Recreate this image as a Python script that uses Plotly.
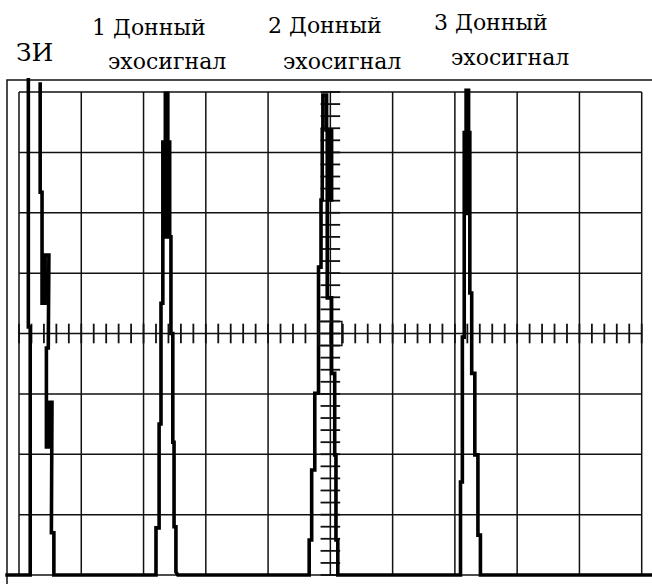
import numpy as np
import plotly.graph_objects as go

# ---- screen grid (divisions) ----
x_divisions = 10
y_divisions = 8
minor_per_div = 5

# ---- signal traces, in screen divisions (x: time, y: amplitude) ----
baseline_start = [-0.22]
baseline_end = [10.20]

zi_x = [0.18, 0.18, 0.15, 0.15, None, 0.34, 0.34, 0.37, 0.37, 0.37, 0.42, 0.42, 0.48, 0.48,
        0.47, 0.47, 0.44, 0.44, 0.44, 0.49, 0.49, 0.53, 0.53, 0.52, 0.52, 0.56, 0.56]
zi_y = [0.00, 4.11, 4.11, 8.23, None, 8.16, 6.34, 6.34, 5.30, 4.50, 4.50, 5.30, 5.30, 4.50,
        4.50, 3.76, 3.76, 2.86, 2.12, 2.12, 2.86, 2.86, 2.12, 2.12, 0.70, 0.70, 0.00]

echo1_x = [2.20, 2.20, 2.25, 2.25, 2.28, 2.28, 2.31, 2.31, 2.35, 2.35, 2.39, 2.39, 2.42,
           2.42, 2.365, 2.365, 2.42, 2.42, 2.44, 2.44, 2.47, 2.47, 2.49, 2.49, 2.52, 2.52, 2.55]
echo1_y = [0.00, 0.78, 0.78, 2.50, 2.50, 4.50, 4.50, 7.17, 7.17, 7.98, 7.98, 7.17, 7.17,
           5.60, 5.60, 7.17, 7.17, 5.60, 5.60, 4.00, 4.00, 2.20, 2.20, 0.80, 0.80, 0.05, 0.00]

echo2_x = [4.66, 4.66, 4.70, 4.70, 4.75, 4.75, 4.81, 4.81, 4.85, 4.85, 4.87, 4.87, 4.88,
           4.88, 4.94, 4.94, 5.02, 5.02, 4.95, 4.95, 4.985, 4.985, 4.95, 4.95, 5.02, 5.02,
           5.07, 5.07, 5.09, 5.09, 5.12, 5.12]
echo2_y = [0.00, 0.58, 0.58, 1.74, 1.74, 3.01, 3.01, 5.10, 5.10, 6.21, 6.21, 7.37, 7.37,
           7.95, 7.95, 7.37, 7.37, 6.21, 6.21, 7.37, 7.37, 6.21, 6.21, 4.59, 4.59, 3.34,
           3.34, 1.99, 1.99, 0.58, 0.58, 0.00]

echo3_x = [7.09, 7.09, 7.12, 7.12, 7.15, 7.15, 7.18, 7.18, 7.22, 7.22, 7.24, 7.24, 7.195,
           7.195, 7.24, 7.24, 7.27, 7.27, 7.32, 7.32, 7.37, 7.37, 7.41, 7.41]
echo3_y = [0.00, 1.54, 1.54, 3.94, 3.94, 7.33, 7.33, 8.03, 8.03, 7.33, 7.33, 5.99, 5.99,
           7.33, 7.33, 4.67, 4.67, 3.34, 3.34, 1.99, 1.99, 0.66, 0.66, 0.00]

signal_x = baseline_start + zi_x + echo1_x + echo2_x + echo3_x + baseline_end
signal_y = [0.0] + zi_y + echo1_y + echo2_y + echo3_y + [0.0]

# ---- labels ----
label_texts = ["ЗИ", "1 Донный", "эхосигнал", "2 Донный", "эхосигнал", "3 Донный", "эхосигнал"]

# ---- figure geometry (pixels) ----
W, H = 652, 584
grid_left_px, grid_right_px = 19.0, 641.7
grid_top_px, grid_bottom_px = 92.0, 575.0
px_per_x = (grid_right_px - grid_left_px) / x_divisions
px_per_y = (grid_bottom_px - grid_top_px) / y_divisions
x_range = [-grid_left_px / px_per_x, (W - grid_left_px) / px_per_x]
y_range = [-(H - grid_bottom_px) / px_per_y, grid_bottom_px / px_per_y]

fig = go.Figure()

# grid lines
gx, gy = [], []
for i in range(x_divisions + 1):
    gx += [i, i, None]
    gy += [0, y_divisions, None]
for j in range(y_divisions + 1):
    gx += [0, x_divisions, None]
    gy += [j, j, None]
fig.add_trace(go.Scatter(x=gx, y=gy, mode="lines",
                         line=dict(color="#111111", width=1.5), hoverinfo="skip"))

# minor ticks along the centre axes
cx = x_divisions / 2
cy = y_divisions / 2
tick_x = np.arange(0, x_divisions + 1e-9, 1 / minor_per_div)
tick_y = np.arange(0, y_divisions + 1e-9, 1 / minor_per_div)
fig.add_trace(go.Scatter(x=tick_x, y=[cy] * len(tick_x), mode="markers",
                         marker=dict(symbol="line-ns", size=14,
                                     line=dict(color="#111111", width=1.8)),
                         hoverinfo="skip"))
fig.add_trace(go.Scatter(x=[cx] * len(tick_y), y=tick_y, mode="markers",
                         marker=dict(symbol="line-ew", size=14,
                                     line=dict(color="#111111", width=1.8)),
                         hoverinfo="skip"))

# signal
fig.add_trace(go.Scatter(x=signal_x, y=signal_y, mode="lines", connectgaps=False,
                         line=dict(color="black", width=3.6), hoverinfo="skip"))

# outer screen frame
frame_left = (7 - grid_left_px) / px_per_x
frame_top = (grid_bottom_px - 80) / px_per_y
fig.add_shape(type="rect", x0=frame_left, x1=x_range[1] + 1, y0=y_range[0] - 1, y1=frame_top,
              xref="x", yref="y", line=dict(color="#111111", width=1.5), layer="below")
# small centre square
fig.add_shape(type="rect", x0=cx - 0.185, x1=cx + 0.185, y0=cy - 0.2, y1=cy + 0.2,
              xref="x", yref="y", line=dict(color="#111111", width=1.5))

label_pos = [(34, 52), (149, 28), (167, 62), (325, 26), (342, 61), (491, 23), (510, 58)]
label_size = [25, 22, 22, 22, 22, 22, 22]
for txt, (px, py), fs in zip(label_texts, label_pos, label_size):
    fig.add_annotation(text=txt, x=px / W, y=1 - py / H, xref="paper", yref="paper",
                       xanchor="center", yanchor="middle", showarrow=False,
                       font=dict(family="DejaVu Serif", size=fs, color="black"))

fig.update_layout(
    width=W, height=H,
    margin=dict(l=0, r=0, t=0, b=0),
    paper_bgcolor="white", plot_bgcolor="white",
    showlegend=False,
    xaxis=dict(range=x_range, visible=False, fixedrange=True),
    yaxis=dict(range=y_range, visible=False, fixedrange=True),
)

fig.write_html("out.html", config={"displayModeBar": False},
               post_script="document.body.style.margin='0';document.body.style.overflow='hidden';")
